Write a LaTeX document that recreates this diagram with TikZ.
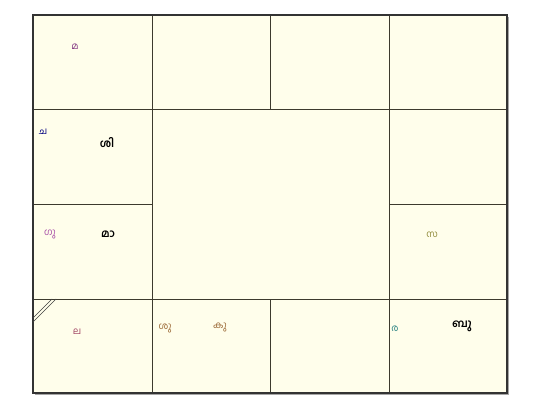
\documentclass[tikz,border=0pt]{standalone}
\usepackage{fontspec}
\newfontfamily\mlfont[Script=Malayalam]{Hind Kochi}
\begin{document}
\begin{tikzpicture}[x=1pt,y=-1pt,
  grid/.style={draw=black!75!olive,line width=1pt},
  lbl/.style={font=\mlfont\fontsize{9.5}{11}\selectfont,inner sep=0pt},
  big/.style={font=\mlfont\bfseries\fontsize{11}{12}\selectfont,inner sep=0pt,text=black}]
\useasboundingbox (0,0) rectangle (540,411);
\fill[white] (0,0) rectangle (540,411);
% shadow
\fill[black!35] (35,17) rectangle (509,395);
\fill[yellow!8] (33,15) rectangle (507,393);
% inner lines
\draw[grid] (152,15) -- (152,393);
\draw[grid] (389,15) -- (389,393);
\draw[grid] (270,15) -- (270,110);
\draw[grid] (270,299) -- (270,393);
\draw[grid] (33,110) -- (507,110);
\draw[grid] (33,299) -- (507,299);
\draw[grid] (33,205) -- (152,205);
\draw[grid] (389,205) -- (507,205);
\draw[black!80,line width=1.3pt] (33,15) rectangle (507,393);
% lagna marks
\draw[black!75,line width=0.7pt] (33,318) -- (52,299);
\draw[black!75,line width=0.7pt] (33,322) -- (56,299);
% labels
\node[lbl,text=violet!60!gray] (ma) at (75,47) {മ};
\node[lbl,text=blue!50!black] (ca) at (43,132) {ച};
\node[big] (si) at (107,143) {ശി};
\node[lbl,text=violet!70] (gu) at (50,234) {ഗു};
\node[big] (maa) at (108,234) {മാ};
\node[lbl,text=violet!50!brown] (la) at (77,332) {ല};
\node[lbl,text=brown!80!black] (su) at (165,328) {ശു};
\node[lbl,text=brown!80!black] (ku) at (220,327) {കു};
\node[lbl,text=olive!60!gray] (sa) at (432,235) {സ};
\node[lbl,text=teal!70!gray] (ra) at (395,329) {ര};
\node[big] (bu) at (462,326) {ബു};
\end{tikzpicture}
\end{document}
